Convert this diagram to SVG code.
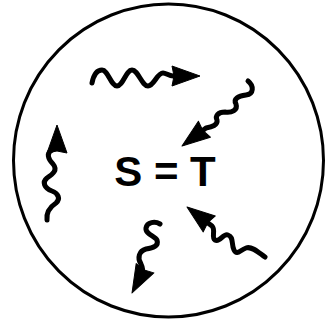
<svg xmlns="http://www.w3.org/2000/svg" xmlns:xlink="http://www.w3.org/1999/xlink" width="326" height="323" viewBox="0 0 326 323">
<defs>
<style>
.w{fill:none;stroke:#000;stroke-width:5;stroke-linecap:round;stroke-linejoin:round}
.t{font-family:"Liberation Sans",Arial,sans-serif;font-weight:bold;font-size:42px;fill:#000}
</style>
<path id="head" d="M0,0 L-28,-10 L-26,0 L-28,10 Z" fill="#000" stroke="#000" stroke-width="1" stroke-linejoin="round"/>
</defs>
<rect width="326" height="323" fill="#fff"/>
<g id="boundary">
<ellipse cx="168.5" cy="160.5" rx="155" ry="156.5" fill="none" stroke="#000" stroke-width="3"/>
</g>
<g id="label">
<text class="t" x="165" y="186" text-anchor="middle">S = T</text>
</g>
<g id="connectors">
<path class="w" d="M92,83 C94,73 98,70 102,70 C108,70 111,86 117,86 C123,86 126,70 132,70 C138,70 142,86 148,86 C154,86 157,73 163,73 C166,73 169,76 173,76 L185,76"/>
<use xlink:href="#head" href="#head" transform="translate(200,76)"/>
<path class="w" d="M248,81 C254,86 254,94 246,95 C238,96 233,99 236,104 C238,110 232,113 225,112 C218,112 215,116 217,120 C218,125 212,127 206,128 L194,137"/>
<use xlink:href="#head" href="#head" transform="translate(182,146) rotate(143.13)"/>
<path class="w" d="M47,220 C46,212 50,207 56,203 C61,199 58,193 52,191 C44,188 42,182 47,178 C53,174 58,170 53,164 C48,159 46,153 52,150 C56,148 57,146 57,144 L57,138"/>
<use xlink:href="#head" href="#head" transform="translate(57,125) rotate(-90)"/>
<path class="w" d="M160,224 C155,221 147,222 146,228 C145,234 155,236 157,240 C159,246 153,248 146,249 C139,251 137,258 141,264 C143,268 143,271 142,274 L137,283"/>
<use xlink:href="#head" href="#head" transform="translate(132,293) rotate(117.76)"/>
<path class="w" d="M265,257 C258,252 252,246 246,248 C240,250 237,256 234,250 C231,244 234,237 228,235 C223,233 220,243 215,240 C211,237 216,230 212,226 L200,217"/>
<use xlink:href="#head" href="#head" transform="translate(187,207) rotate(-142.77)"/>
</g>
</svg>
